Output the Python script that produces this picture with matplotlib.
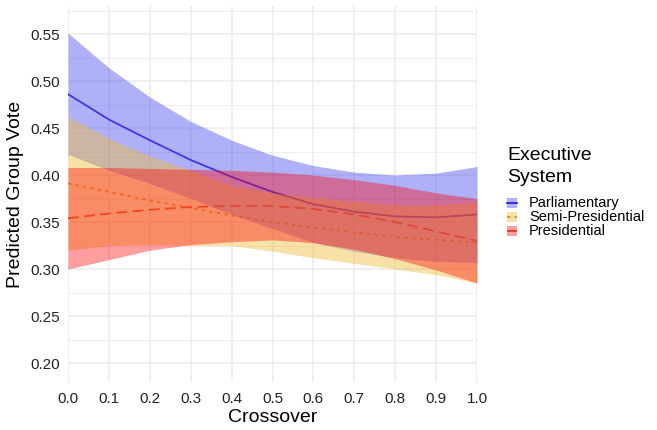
import matplotlib
matplotlib.use("Agg")
import matplotlib.pyplot as plt
from matplotlib.patches import Rectangle
from matplotlib.lines import Line2D

plt.rcParams['font.family'] = ['Liberation Sans', 'DejaVu Sans']

# values
crossover = [0.0, 0.1, 0.2, 0.3, 0.4, 0.5, 0.6, 0.7, 0.8, 0.9, 1.0]

parl_fit = [0.486, 0.459, 0.437, 0.416, 0.398, 0.382, 0.369, 0.361, 0.356, 0.355, 0.358]
parl_hi = [0.551, 0.514, 0.483, 0.457, 0.437, 0.421, 0.410, 0.403, 0.400, 0.402, 0.409]
parl_lo = [0.422, 0.405, 0.391, 0.375, 0.358, 0.343, 0.328, 0.319, 0.312, 0.308, 0.307]

semi_fit = [0.391, 0.382, 0.373, 0.365, 0.357, 0.350, 0.344, 0.339, 0.334, 0.331, 0.328]
semi_hi = [0.462, 0.439, 0.420, 0.405, 0.389, 0.381, 0.376, 0.372, 0.368, 0.368, 0.371]
semi_lo = [0.320, 0.325, 0.326, 0.325, 0.325, 0.319, 0.312, 0.306, 0.300, 0.294, 0.285]

pres_fit = [0.354, 0.359, 0.363, 0.366, 0.367, 0.367, 0.364, 0.358, 0.350, 0.340, 0.330]
pres_hi = [0.408, 0.408, 0.407, 0.406, 0.405, 0.403, 0.400, 0.395, 0.389, 0.381, 0.375]
pres_lo = [0.300, 0.310, 0.320, 0.326, 0.329, 0.331, 0.328, 0.321, 0.311, 0.299, 0.285]

systems = ['Parliamentary', 'Semi-Presidential', 'Presidential']
x_ticks = [0.0, 0.1, 0.2, 0.3, 0.4, 0.5, 0.6, 0.7, 0.8, 0.9, 1.0]
y_ticks = [0.20, 0.25, 0.30, 0.35, 0.40, 0.45, 0.50, 0.55]

line_cols = ['#2626E0', '#F08A1E', '#EE3322']
fill_cols = ['#5050F0', '#F0BE3C', '#FF0000']
fill_alpha = [0.45, 0.45, 0.38]
dashes = [None, (1.8, 2.4), (6.0, 3.0)]

W, H = 657, 430
fig = plt.figure(figsize=(W / 100, H / 100), dpi=100)
ax = fig.add_axes([68 / W, 1 - 382 / H, 409 / W, 376 / H])

fits = [parl_fit, semi_fit, pres_fit]
his = [parl_hi, semi_hi, pres_hi]
los = [parl_lo, semi_lo, pres_lo]

for i in range(3):
    # lines go under the ribbons, like in the original
    ln, = ax.plot(crossover, fits[i], color=line_cols[i], lw=1.3, zorder=2)
    if dashes[i] is not None:
        ln.set_dashes(dashes[i])
    ax.fill_between(crossover, los[i], his[i], color=fill_cols[i],
                    alpha=fill_alpha[i], lw=0, zorder=3)

ax.set_xlim(0, 1)
ax.set_ylim(0.1798, 0.5798)
ax.set_xticks(x_ticks)
ax.set_xticklabels([f'{v:.1f}' for v in x_ticks])
ax.set_yticks(y_ticks)
ax.set_yticklabels([f'{v:.2f}' for v in y_ticks])
ax.set_yticks([0.225, 0.275, 0.325, 0.375, 0.425, 0.475, 0.525, 0.575], minor=True)

ax.grid(which='major', color='#EBEBEB', lw=1.1, zorder=0)
ax.grid(which='minor', axis='y', color='#EBEBEB', lw=0.6, zorder=0)
ax.set_axisbelow(True)
for s in ax.spines.values():
    s.set_visible(False)
ax.tick_params(which='both', length=0)
ax.tick_params(axis='x', pad=7, labelsize=11, labelcolor='#222222')
ax.tick_params(axis='y', pad=6, labelsize=11, labelcolor='#222222')

ax.set_xlabel('Crossover', fontsize=14, labelpad=2)
ax.set_ylabel('Predicted Group Vote', fontsize=14, labelpad=4)

# legend, laid out by hand to get the tight ggplot spacing
fig.text(507 / W, 1 - 156 / H, 'Executive', fontsize=14, va='center', ha='left')
fig.text(507 / W, 1 - 178 / H, 'System', fontsize=14, va='center', ha='left')
key_y = [203, 217, 231]
for i in range(3):
    yk = 1 - key_y[i] / H
    fig.add_artist(Rectangle((507 / W, yk - 5 / H), 10 / W, 10 / H,
                             transform=fig.transFigure, facecolor=fill_cols[i],
                             alpha=fill_alpha[i], lw=0))
    kl = Line2D([507 / W, 517 / W], [yk, yk], transform=fig.transFigure,
                color=line_cols[i], lw=1.3)
    if dashes[i] is not None:
        kl.set_dashes(dashes[i])
    fig.add_artist(kl)
    fig.text(529 / W, yk, systems[i], fontsize=10.5, va='center', ha='left')

fig.savefig('out.png', dpi=100)
